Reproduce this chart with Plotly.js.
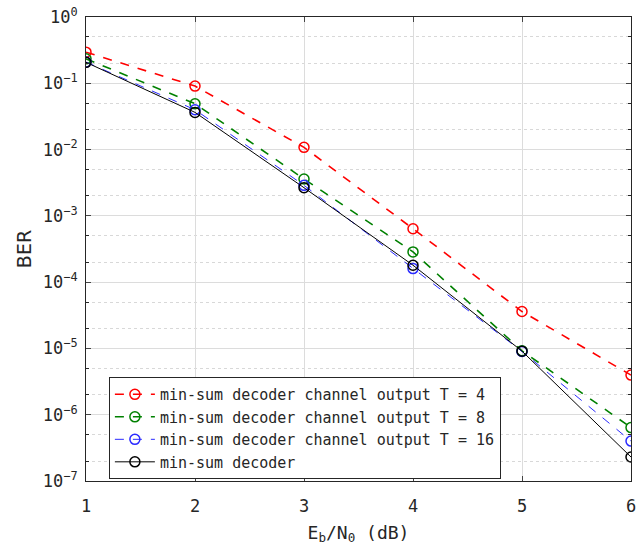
<!DOCTYPE html>
<html>
<head>
<meta charset="utf-8">
<script src="https://cdn.plot.ly/plotly-3.0.1.min.js"></script>
<style>html,body{margin:0;padding:0;background:#fff;}#chart{width:639px;height:550px;}</style>
</head>
<body>
<div id="chart"></div>
<script>
const ebn0 = [1, 2, 3, 4, 5, 6];
const berT4 = [0.295, 0.0907, 0.0108, 6.4e-4, 3.6e-5, 3.96e-6];
const berT8 = [0.234, 0.0492, 0.0036, 2.86e-4, 9.2e-6, 6.4e-7];
const berT16 = [0.209, 0.0399, 0.00289, 1.6e-4, 9.0e-6, 4.0e-7];
const berMinSum = [0.207, 0.0364, 0.00266, 1.8e-4, 9.1e-6, 2.3e-7];
const names = [
  'min-sum decoder channel output T = 4',
  'min-sum decoder channel output T = 8',
  'min-sum decoder channel output T = 16',
  'min-sum decoder'
];
const yTickVals = [1e-7, 1e-6, 1e-5, 1e-4, 1e-3, 1e-2, 1e-1, 1];
const yTickText = ['10<sup>\u22127</sup>', '10<sup>\u22126</sup>', '10<sup>\u22125</sup>', '10<sup>\u22124</sup>',
                   '10<sup>\u22123</sup>', '10<sup>\u22122</sup>', '10<sup>\u22121</sup>', '10<sup>0</sup>'];

const FONT = '"DejaVu Sans Mono", "Liberation Mono", monospace';
const SANS = '"DejaVu Sans", "Noto Sans", sans-serif';
function trace(y, name, color, dash, width) {
  return {
    x: ebn0, y: y, name: name, type: 'scatter', mode: 'lines+markers',
    line: {color: color, dash: dash, width: width},
    marker: {symbol: 'circle-open', size: 10, color: color, line: {color: color, width: 1.5}}
  };
}
const data = [
  trace(berT4, names[0], '#ff0000', 'dash', 1.6),
  trace(berT8, names[1], '#008000', 'dash', 1.6),
  trace(berT16, names[2], '#2a2aff', 'dash', 1.0),
  trace(berMinSum, names[3], '#000000', 'solid', 1.0)
];
const layout = {
  width: 639, height: 550,
  margin: {l: 86, r: 8, t: 17, b: 69},
  paper_bgcolor: '#ffffff', plot_bgcolor: '#ffffff',
  font: {family: FONT, color: '#262626', size: 15},
  showlegend: true,
  legend: {
    x: 0.042, y: 0.224, xanchor: 'left', yanchor: 'top',
    bgcolor: '#ffffff', bordercolor: '#262626', borderwidth: 1,
    font: {family: FONT, size: 15, color: '#262626'},
    tracegroupgap: 0, itemwidth: 40
  },
  xaxis: {
    range: [1, 6], tickvals: ebn0, ticks: 'inside', ticklen: 5,
    ticklabelstandoff: 10,
    showgrid: true, gridcolor: '#dcdcdc', gridwidth: 1,
    showline: true, linecolor: '#262626', linewidth: 1, mirror: 'ticks',
    zeroline: false, tickfont: {family: FONT, size: 17, color: '#262626'},
    title: {text: 'E<sub>b</sub>/N<sub>0</sub> (dB)', font: {family: FONT, size: 18, color: '#262626'}, standoff: 10}
  },
  yaxis: {
    type: 'log', range: [-7, 0], tickvals: yTickVals, ticktext: yTickText,
    ticks: 'inside', ticklen: 5, ticklabelstandoff: 4,
    showgrid: true, gridcolor: '#dcdcdc', gridwidth: 1,
    minor: {showgrid: true, gridcolor: '#d8d8d8', griddash: 'dot', ticks: 'inside', ticklen: 3, tickcolor: '#262626'},
    showline: true, linecolor: '#262626', linewidth: 1, mirror: 'allticks',
    zeroline: false, tickfont: {family: FONT, size: 17, color: '#262626'},
    title: {text: 'BER', font: {family: SANS, size: 19, color: '#262626'}, standoff: 6}
  }
};
Plotly.newPlot('chart', data, layout, {staticPlot: true, displayModeBar: false});
</script>
</body>
</html>
